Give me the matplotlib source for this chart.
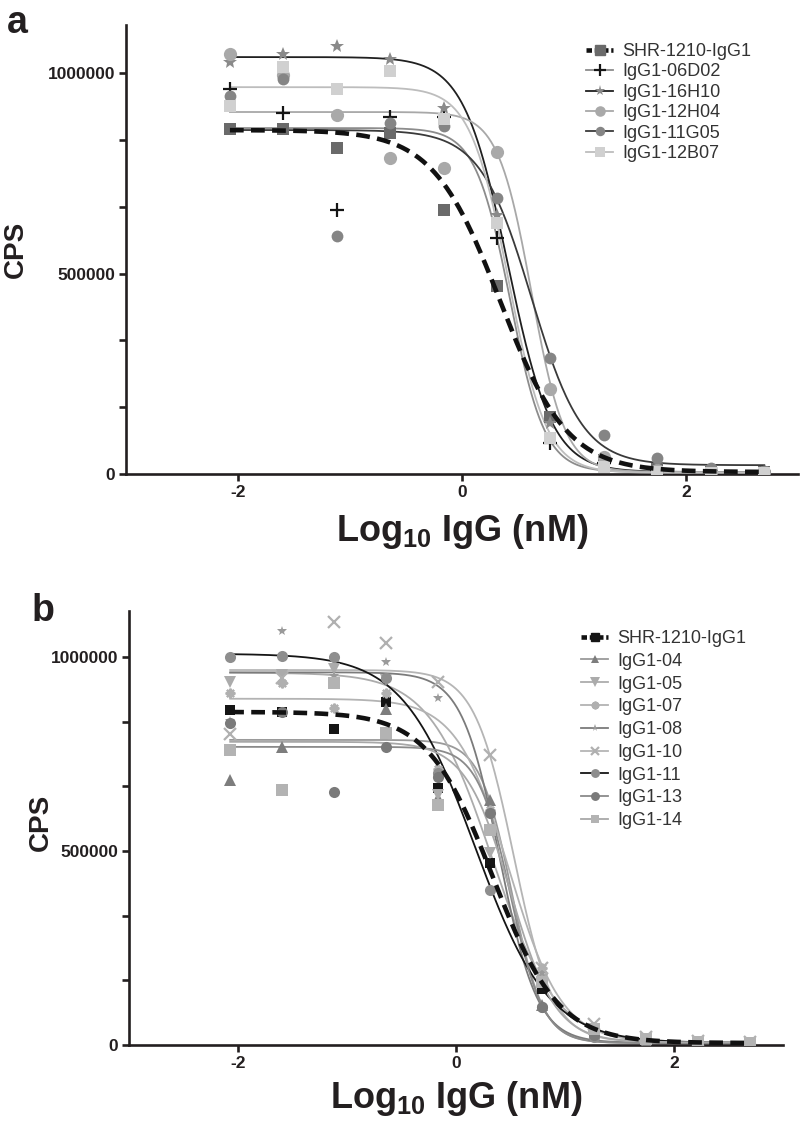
import numpy as np
import matplotlib
matplotlib.use("Agg")
import matplotlib.pyplot as plt
from matplotlib.lines import Line2D

plt.rcParams['font.family'] = ['Liberation Sans', 'DejaVu Sans']
plt.rcParams['mathtext.default'] = 'regular'

# ---------------- data ----------------
log_dose = [-2.072, -1.595, -1.118, -0.641, -0.164, 0.313, 0.790, 1.268, 1.745, 2.222, 2.699]

# panel a (CPS values, thousands)
a_names = ["SHR-1210-IgG1", "IgG1-06D02", "IgG1-16H10", "IgG1-12H04", "IgG1-11G05", "IgG1-12B07"]
a_shr   = [860, 860, 813, 850, 658, 469, 142, 35, 12, 6, 5]
a_06d02 = [960, 900, 658, 890, 890, 588, 77, 27, 10, 8, 5]
a_16h10 = [1027, 1047, 1067, 1035, 913, 646, 127, 20, 8, 6, 5]
a_12h04 = [1047, 995, 895, 788, 763, 803, 212, 42, 10, 5, 4]
a_11g05 = [943, 985, 593, 875, 868, 688, 289, 97, 40, 15, 8]
a_12b07 = [918, 1015, 960, 1005, 885, 626, 90, 17, 5, 3, 2]
# fitted 4PL curves: top, bottom, logIC50, hill
a_top    = [858, 863, 1040, 903, 858, 965]
a_bottom = [5, 5, 5, 5, 22, 3]
a_logic  = [0.34, 0.43, 0.41, 0.62, 0.62, 0.415]
a_hill   = [1.45, 2.8, 2.2, 2.9, 1.9, 2.55]

# panel b
b_names = ["SHR-1210-IgG1", "IgG1-04", "IgG1-05", "IgG1-07", "IgG1-08",
           "IgG1-10", "IgG1-11", "IgG1-13", "IgG1-14"]
b_shr = [863, 858, 814, 884, 662, 469, 144, 41, 10, 4, 4]
b_04  = [683, 768, 943, 866, 637, 631, 103, 25, 8, 5, 4]
b_05  = [936, 954, 969, 940, 644, 495, 168, 30, 10, 6, 5]
b_07  = [907, 933, 869, 907, 711, 606, 198, 40, 12, 6, 5]
b_08  = [835, 1067, 950, 987, 894, 560, 185, 35, 15, 8, 5]
b_10  = [802, 945, 1090, 1036, 936, 747, 198, 55, 20, 10, 8]
b_11  = [1000, 1002, 1000, 945, 700, 399, 98, 20, 8, 5, 4]
b_13  = [830, 858, 652, 768, 690, 597, 98, 25, 10, 5, 4]
b_14  = [760, 657, 933, 804, 619, 554, 162, 40, 15, 8, 6]
b_top    = [858, 786, 959, 892, 960, 966, 1008, 768, 781]
b_bottom = [5, 5, 5, 6, 6, 8, 5, 5, 7]
b_logic  = [0.34, 0.51, 0.33, 0.49, 0.40, 0.53, 0.18, 0.50, 0.50]
b_hill   = [1.45, 3.0, 1.5, 1.8, 2.5, 2.4, 1.3, 2.9, 2.1]

# ---------------- styles ----------------
a_data = [a_shr, a_06d02, a_16h10, a_12h04, a_11g05, a_12b07]
a_mk = ['s', '+', '*', 'o', 'o', 's']
a_mc = ['#6a6a6a', '#151515', '#8a8a8a', '#a9a9a9', '#858585', '#d0d0d0']
a_ms = [8, 10, 10, 9.5, 8.5, 9]
a_lc = ['#111111', '#8c8c8c', '#202020', '#a8a8a8', '#3a3a3a', '#bdbdbd']

b_data = [b_shr, b_04, b_05, b_07, b_08, b_10, b_11, b_13, b_14]
b_mk = ['s', '^', 'v', (8, 2, 0), '*', 'x', 'o', 'o', 's']
b_mc = ['#151515', '#7d7d7d', '#ababab', '#b0b0b0', '#9a9a9a', '#b0b0b0', '#8e8e8e', '#7a7a7a', '#b3b3b3']
b_ms = [7, 8, 8.5, 7, 7, 8, 8, 8, 8]
b_lc = ['#111111', '#9a9a9a', '#acacac', '#b3b3b3', '#7b7b7b', '#b5b5b5', '#151515', '#8a8a8a', '#a8a8a8']

TXT = '#231f20'


def fourpl(x, top, bottom, c, h):
    return bottom + (top - bottom) / (1 + 10 ** (h * (x - c)))


def style_axes(ax, ytop):
    ax.set_xlim(-3, 3)
    ax.set_ylim(0, ytop)
    for s in ['top', 'right']:
        ax.spines[s].set_visible(False)
    for s in ['left', 'bottom']:
        ax.spines[s].set_linewidth(1.9)
        ax.spines[s].set_color(TXT)
    ax.set_xticks([-2, 0, 2])
    ax.set_xticklabels(['-2', '0', '2'])
    ax.set_yticks([0, 500000, 1000000])
    ax.set_yticklabels(['0', '500000', '1000000'])
    ax.set_yticks(np.arange(0, 1000001, 1000000 / 6), minor=True)
    ax.tick_params(axis='both', which='both', direction='out', width=1.9,
                   color=TXT, labelcolor=TXT, labelsize=12.5)
    ax.tick_params(axis='both', which='major', length=5, pad=3)
    ax.tick_params(axis='y', which='minor', length=5)
    for lab in ax.get_xticklabels() + ax.get_yticklabels():
        lab.set_fontweight('bold')


def draw(ax, data, mk, mc, ms, lc, top, bottom, logic, hill, names):
    xs = np.array(log_dose)
    xf = np.linspace(xs.min(), xs.max(), 400)
    handles = []
    for i in range(len(data)):
        y = np.array(data[i]) * 1000.0
        yf = fourpl(xf, top[i], bottom[i], logic[i], hill[i]) * 1000.0
        if i == 0:
            ax.plot(xf, yf, color=lc[i], lw=3.3, dashes=(3.0, 1.6), zorder=5)
        else:
            ax.plot(xf, yf, color=lc[i], lw=1.3, zorder=3)
        mew = 1.6 if mk[i] in ('+', 'x') or isinstance(mk[i], tuple) else 0
        ax.plot(xs, y, ls='none', marker=mk[i], ms=ms[i], mfc=mc[i], mec=mc[i],
                mew=mew, zorder=4)
        if i == 0:
            h = Line2D([], [], color=lc[i], lw=3.3, dashes=(1.2, 0.6), marker=mk[i],
                       ms=ms[i] * 0.85, mfc=mc[i], mec=mc[i])
        else:
            h = Line2D([], [], color=lc[i], lw=1.3, marker=mk[i], ms=ms[i] * 0.8,
                       mfc=mc[i], mec=mc[i], mew=mew)
        handles.append(h)
    return handles


fig = plt.figure(figsize=(8.0, 11.31), dpi=100)

# ---------- panel a ----------
axa = fig.add_axes([126 / 800, 1 - 474 / 1131, 672 / 800, 449 / 1131])
style_axes(axa, 1.12e6)
ha = draw(axa, a_data, a_mk, a_mc, a_ms, a_lc, a_top, a_bottom, a_logic, a_hill, a_names)
leg = axa.legend(ha, a_names, loc='upper left', bbox_to_anchor=(577 / 800, 1 - 34 / 1131),
                 bbox_transform=fig.transFigure, frameon=False, fontsize=13,
                 handlelength=1.5, handletextpad=0.5, labelspacing=0.19, borderpad=0)
for t in leg.get_texts():
    t.set_color('#333333')

fig.text(7 / 800, 1 - 33 / 1131, 'a', fontsize=27, fontweight='bold', color=TXT, va='baseline')
fig.text(16 / 800, 1 - 249 / 1131, 'CPS', fontsize=20, fontweight='bold', color=TXT,
         rotation=90, ha='center', va='center')
fig.text(462 / 800, 1 - 541 / 1131, 'Log$_{10}$ IgG (nM)', fontsize=26, fontweight='bold',
         color=TXT, ha='center', va='baseline')

# ---------- panel b ----------
axb = fig.add_axes([129 / 800, 1 - 1045 / 1131, 654 / 800, 434 / 1131])
style_axes(axb, 1.118e6)
hb = draw(axb, b_data, b_mk, b_mc, b_ms, b_lc, b_top, b_bottom, b_logic, b_hill, b_names)
leg = axb.legend(hb, b_names, loc='upper left', bbox_to_anchor=(572 / 800, 1 - 621 / 1131),
                 bbox_transform=fig.transFigure, frameon=False, fontsize=13,
                 handlelength=1.5, handletextpad=0.5, labelspacing=0.32, borderpad=0)
for t in leg.get_texts():
    t.set_color('#333333')

fig.text(32 / 800, 1 - 621 / 1131, 'b', fontsize=27, fontweight='bold', color=TXT, va='baseline')
fig.text(41 / 800, 1 - 822 / 1131, 'CPS', fontsize=20, fontweight='bold', color=TXT,
         rotation=90, ha='center', va='center')
fig.text(456 / 800, 1 - 1108 / 1131, 'Log$_{10}$ IgG (nM)', fontsize=26, fontweight='bold',
         color=TXT, ha='center', va='baseline')

fig.savefig('out.png', dpi=100, facecolor='white')
